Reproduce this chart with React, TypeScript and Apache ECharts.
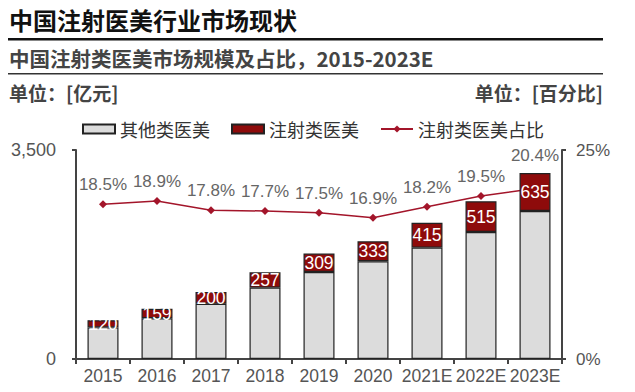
import React, { useEffect, useRef } from "react";
import * as echarts from "echarts";

const categories = ["2015", "2016", "2017", "2018", "2019", "2020", "2021E", "2022E", "2023E"];
const otherValues = [529, 682, 924, 1195, 1457, 1637, 1865, 2126, 2478];
const injectionValues = [120, 159, 200, 257, 309, 333, 415, 515, 635];
const shareValues = [18.5, 18.9, 17.8, 17.7, 17.5, 16.9, 18.2, 19.5, 20.4];
const leftTicks = [0, 3500];
const rightTicks = [0, 25];

const NUM = "'Liberation Sans', Arial, sans-serif";
const CJK = "'Noto Sans CJK SC', sans-serif";

export default function App() {
  const ref = useRef<HTMLDivElement>(null);
  useEffect(() => {
    if (!ref.current) return;
    const chart = echarts.init(ref.current, undefined, { renderer: "svg" });
    const lastIdx = shareValues.length - 1;
    const shareData = shareValues.map((v, i) =>
      i === lastIdx ? { value: v, label: { distance: 20 } } : { value: v }
    );
    chart.setOption({
      animation: false,
      backgroundColor: "#ffffff",
      textStyle: { fontFamily: NUM },
      graphic: [
        { type: "text", left: 9, top: 7, style: { text: "中国注射医美行业市场现状", fontSize: 24, fontWeight: "bold", fill: "#111", fontFamily: CJK } },
        { type: "rect", shape: { x: 8, y: 38, width: 595, height: 2.5 }, style: { fill: "#111" } },
        { type: "text", left: 9, top: 48, style: { text: "中国注射类医美市场规模及占比，2015-2023E", fontSize: 20.5, fontWeight: "bold", fill: "#444", fontFamily: CJK } },
        { type: "rect", shape: { x: 8, y: 73, width: 595, height: 1.5 }, style: { fill: "#333" } },
        { type: "text", left: 9, top: 83, style: { text: "单位：[亿元]", fontSize: 19, fontWeight: "bold", fill: "#444", fontFamily: CJK } },
        { type: "text", right: 32, top: 83, style: { text: "单位：[百分比]", fontSize: 19, fontWeight: "bold", fill: "#444", fontFamily: CJK } },
      ],
      legend: {
        top: 115,
        left: 77,
        itemWidth: 32,
        itemHeight: 9,
        itemGap: 21,
        textStyle: { fontSize: 18, color: "#333", fontFamily: CJK },
        data: [
          { name: "其他类医美", icon: "rect" },
          { name: "注射类医美", icon: "rect" },
          { name: "注射类医美占比" },
        ],
      },
      grid: { left: 76, right: 73, top: 150, bottom: 33, containLabel: false },
      xAxis: {
        type: "category",
        data: categories,
        axisLine: { lineStyle: { color: "#444", width: 2 } },
        axisTick: { show: true, length: 5, lineStyle: { color: "#444", width: 2 } },
        axisLabel: { interval: 0, fontSize: 17.5, color: "#555", margin: 8, fontFamily: NUM },
      },
      yAxis: [
        {
          type: "value",
          min: leftTicks[0],
          max: leftTicks[1],
          interval: 3500,
          splitLine: { show: false },
          axisLine: { show: true, lineStyle: { color: "#444", width: 2 } },
          axisTick: { show: true, length: 4, lineStyle: { color: "#444", width: 2 } },
          axisLabel: { fontSize: 18, color: "#555", margin: 20, fontFamily: NUM, formatter: (v: number) => v.toLocaleString("en-US") },
        },
        {
          type: "value",
          min: rightTicks[0],
          max: rightTicks[1],
          interval: 25,
          splitLine: { show: false },
          axisLine: { show: true, lineStyle: { color: "#444", width: 2 } },
          axisTick: { show: true, length: 4, lineStyle: { color: "#444", width: 2 } },
          axisLabel: { fontSize: 17, color: "#555", margin: 14, fontFamily: NUM, formatter: "{value}%" },
        },
      ],
      series: [
        {
          name: "其他类医美",
          type: "bar",
          stack: "total",
          barWidth: 31,
          z: 3,
          data: otherValues,
          itemStyle: { color: "#dcdcdc", borderColor: "#222", borderWidth: 1.2 },
        },
        {
          name: "注射类医美",
          type: "bar",
          stack: "total",
          barWidth: 31,
          z: 3,
          data: injectionValues,
          itemStyle: { color: "#8e0b0b", borderColor: "#222", borderWidth: 1.2 },
          label: { show: true, position: "inside", color: "#fff", fontSize: 17.5, fontFamily: NUM },
        },
        {
          name: "注射类医美占比",
          type: "line",
          yAxisIndex: 1,
          z: 2,
          data: shareData,
          symbol: "diamond",
          symbolSize: 8,
          lineStyle: { color: "#a3152a", width: 1.5 },
          itemStyle: { color: "#a3152a" },
          label: { show: true, position: "top", distance: 7, color: "#666", fontSize: 17, fontFamily: NUM, formatter: (p: any) => p.value.toFixed(1) + "%" },
        },
      ],
    });
    return () => chart.dispose();
  }, []);
  return <div ref={ref} style={{ position: "absolute", left: 0, top: 0, width: 635, height: 392 }} />;
}
